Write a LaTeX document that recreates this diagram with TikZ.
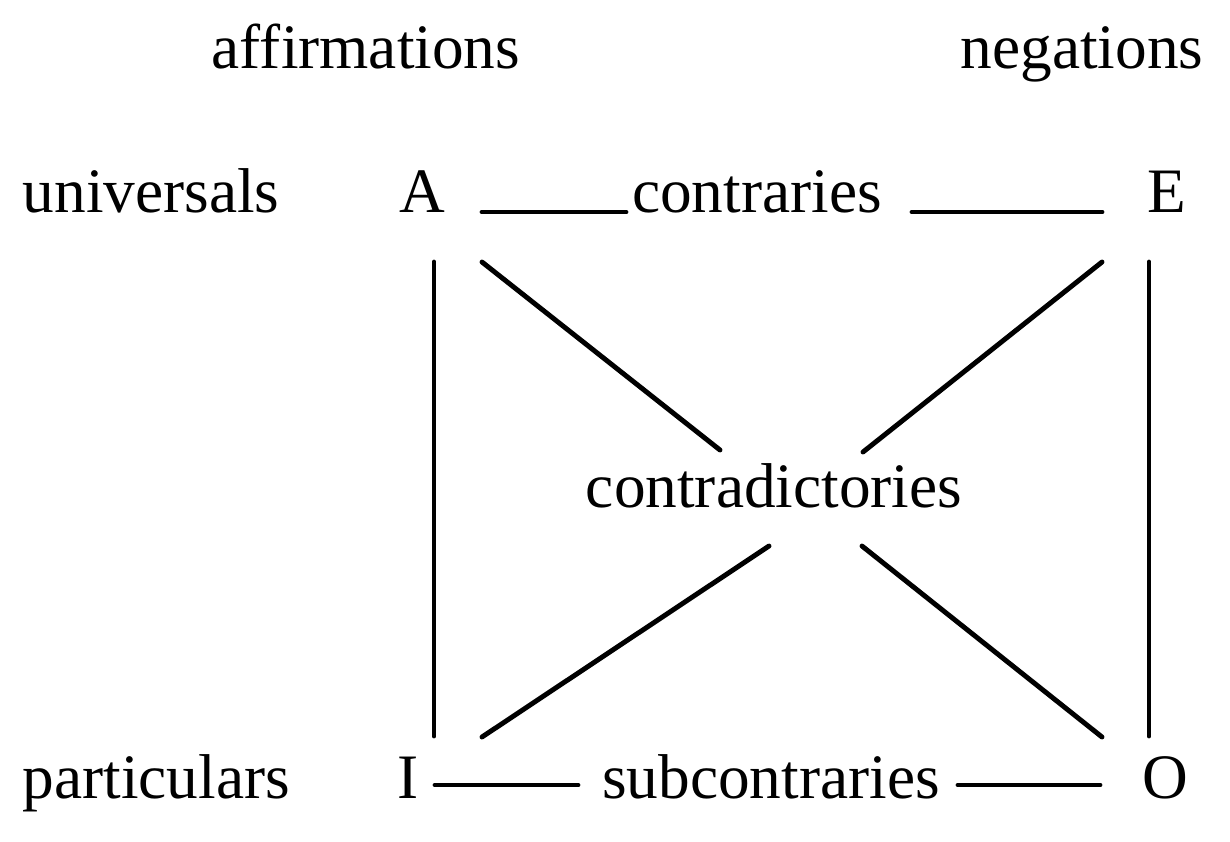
\documentclass[tikz,border=0pt]{standalone}
\usepackage{fontspec}
\setmainfont{Liberation Serif}
\usepackage{tikz}
\usetikzlibrary{positioning, calc}
\tikzstyle{word} = [inner sep=0pt, anchor=base, font=\fontsize{18}{22}\selectfont]
\tikzstyle{line} = [line width=1.4pt, line cap=round]

\begin{document}
\begin{tikzpicture}[x=0.01cm, y=-0.01cm]
            \useasboundingbox (0,0) rectangle (1230,841);
            % column heads
            \node[word] (aff) at (366,68) {affirmations};
            \node[word] (neg) at (1082,68) {negations};
            % row heads
            \node[word, anchor=base west] (univ) at (22,212) {universals};
            \node[word, anchor=base west] (part) at (22,798) {particulars};
            % corners
            \node[word] (A) at (422,212) {A};
            \node[word] (E) at (1167,212) {E};
            \node[word] (I) at (408,798) {I};
            \node[word] (O) at (1165,798) {O};
            % relations
            \node[word] (contr) at (757,212) {contraries};
            \node[word] (contd) at (774,507) {contradictories};
            \node[word] (sub) at (771,798) {subcontraries};

            \coordinate (A-e) at (482,212);
            \coordinate (contr-w) at (626,212);
            \coordinate (contr-e) at (912,212);
            \coordinate (E-w) at (1102,212);
            \coordinate (A-s) at (434,262);
            \coordinate (I-n) at (434,736);
            \coordinate (E-s) at (1149,262);
            \coordinate (O-n) at (1149,736);
            \coordinate (A-se) at (482,262);
            \coordinate (contd-nw) at (720,450);
            \coordinate (E-sw) at (1102,262);
            \coordinate (contd-ne) at (863,452);
            \coordinate (contd-sw) at (769,546);
            \coordinate (I-ne) at (482,737);
            \coordinate (contd-se) at (862,546);
            \coordinate (O-nw) at (1102,737);
            \coordinate (I-e) at (435,785);
            \coordinate (sub-w) at (578,785);
            \coordinate (sub-e) at (958,785);
            \coordinate (O-w) at (1100,785);

            \draw[line] (A-e) -- (contr-w);
            \draw[line] (contr-e) -- (E-w);
            \draw[line] (A-s) -- (I-n);
            \draw[line] (E-s) -- (O-n);
            \draw[line] (A-se) -- (contd-nw);
            \draw[line] (E-sw) -- (contd-ne);
            \draw[line] (contd-sw) -- (I-ne);
            \draw[line] (contd-se) -- (O-nw);
            \draw[line] (I-e) -- (sub-w);
            \draw[line] (sub-e) -- (O-w);
        \end{tikzpicture}
\end{document}
